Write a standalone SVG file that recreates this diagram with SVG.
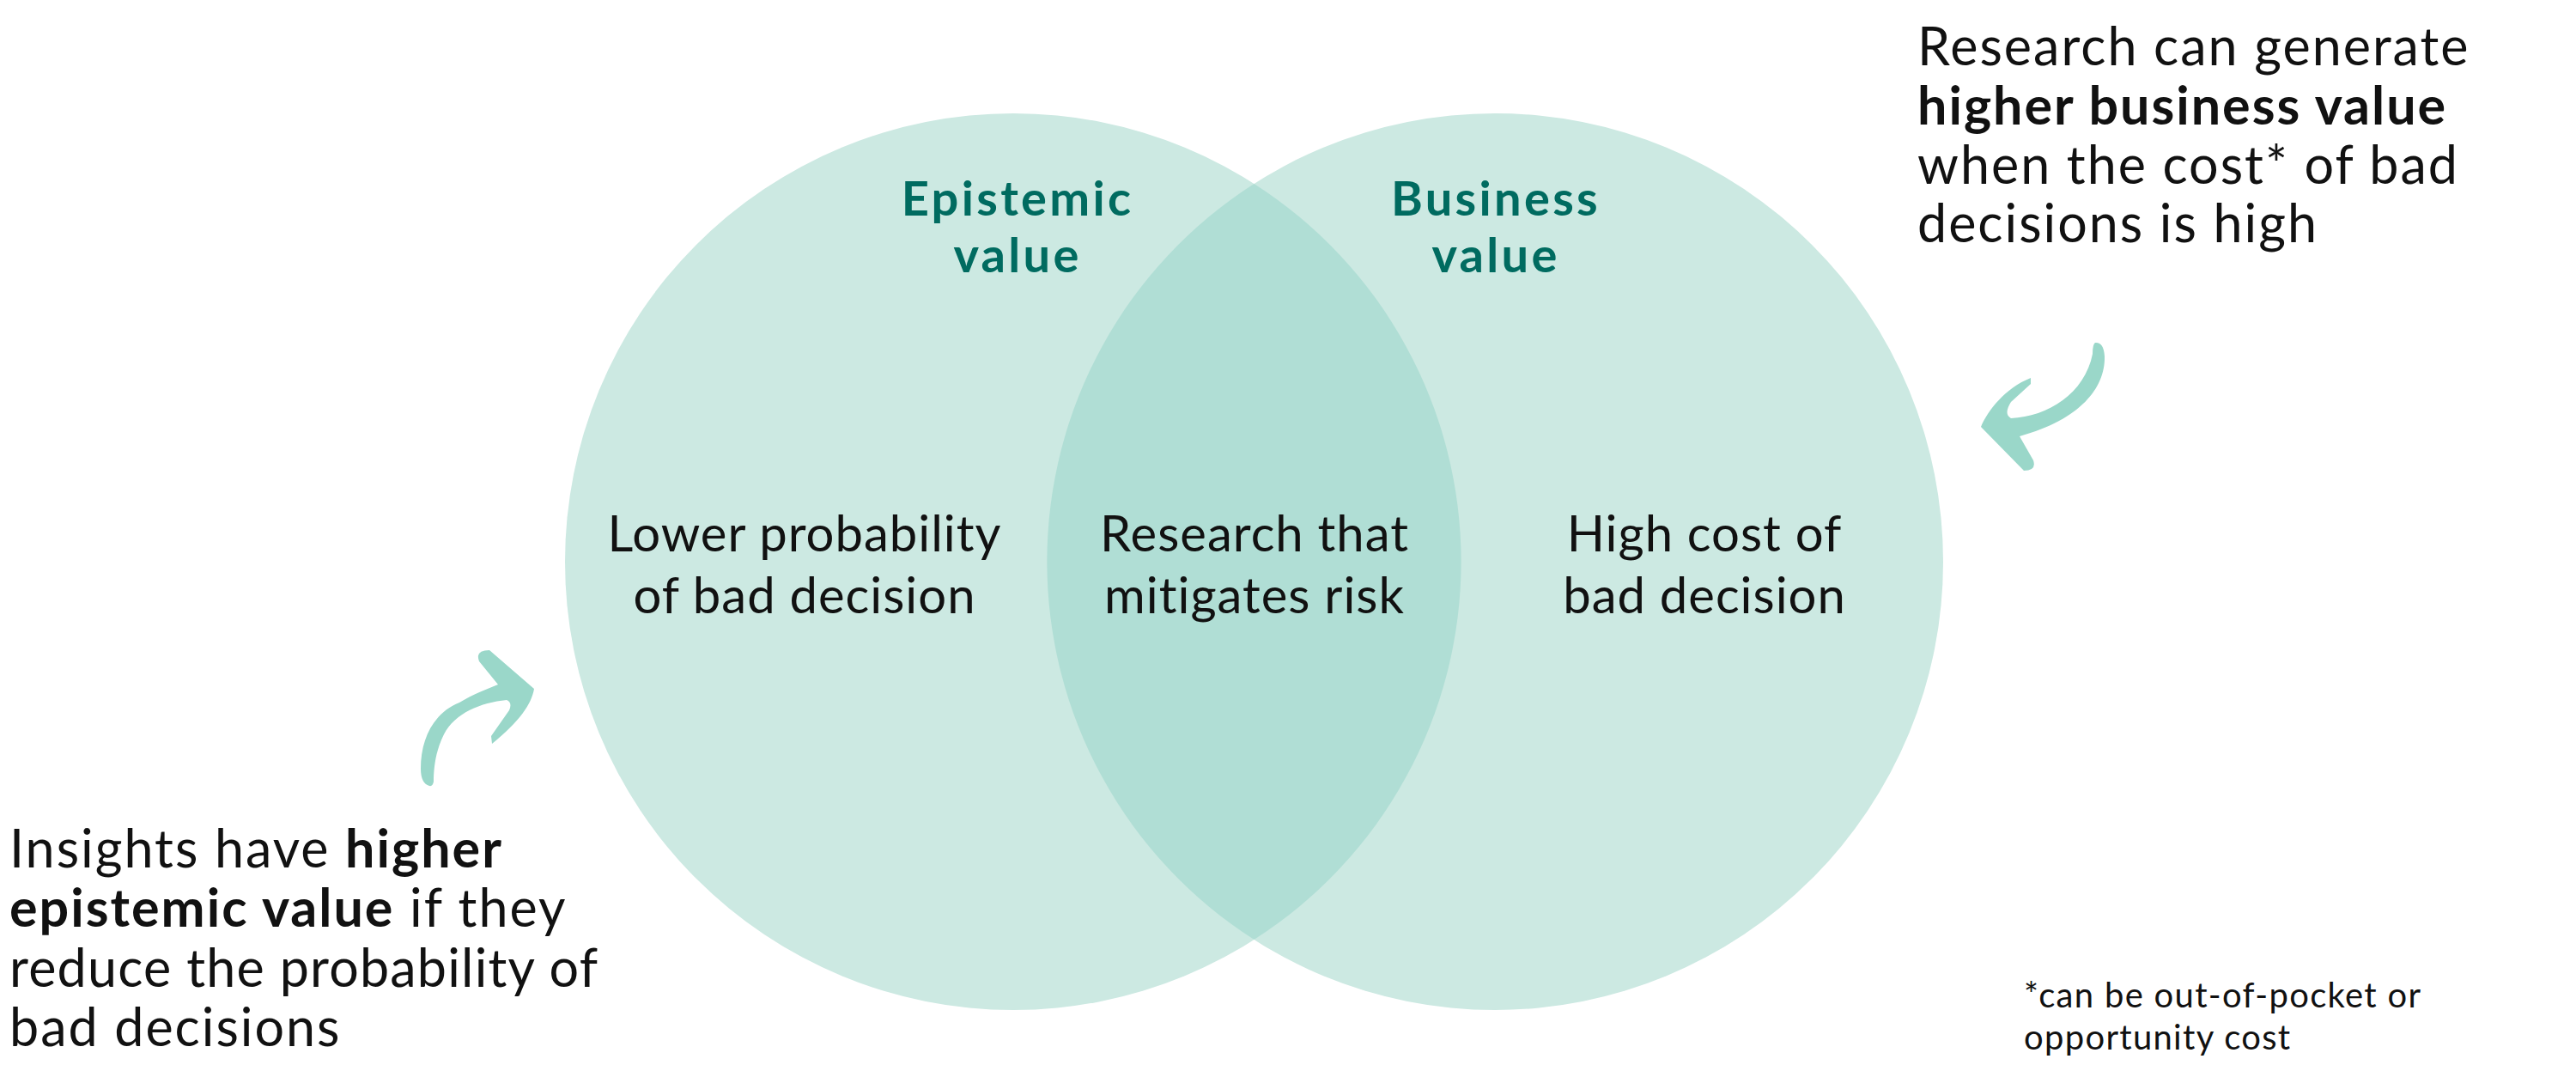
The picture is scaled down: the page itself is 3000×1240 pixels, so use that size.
<svg xmlns="http://www.w3.org/2000/svg" width="3000" height="1240" viewBox="0 0 3000 1240">
<style>
.circ{fill:#cce9e2}
.lens{fill:#b0ded5}
.t{font-family:Lato,"Open Sans",sans-serif;font-size:61px;letter-spacing:2px;fill:#111}
.m{font-family:Lato,"Open Sans",sans-serif;font-size:58px;letter-spacing:1px;fill:#111;text-anchor:middle}
.b{font-weight:bold}
.h{font-family:Lato,"Open Sans",sans-serif;font-size:56px;letter-spacing:3.3px;font-weight:bold;fill:#006b60;text-anchor:middle}
.fn{font-family:Lato,"Open Sans",sans-serif;font-size:40px;letter-spacing:1.3px;fill:#111}
.arr{fill:#9ad7c9}
</style>
<rect width="3000" height="1240" fill="#fff"/>
<g id="epistemic">
<circle class="circ" cx="1180" cy="654" r="522"/>
</g>
<g id="business">
<circle class="circ" cx="1741" cy="654" r="522"/>
</g>
<g id="overlap">
<path class="lens" d="M1460.5 214 A522 522 0 0 1 1460.5 1094 A522 522 0 0 1 1460.5 214 Z"/>
</g>
<g id="labels">
<text class="h" x="1185" y="251">Epistemic</text>
<text class="h" x="1185" y="317">value</text>
<text class="h" x="1742" y="251">Business</text>
<text class="h" x="1742" y="317">value</text>
<text class="m" x="937" y="642">Lower probability</text>
<text class="m" x="937" y="714">of bad decision</text>
<text class="m" x="1461" y="642">Research that</text>
<text class="m" x="1461" y="714">mitigates risk</text>
<text class="m" x="1985" y="642">High cost of</text>
<text class="m" x="1985" y="714">bad decision</text>
</g>
<g id="note-business">
<text class="t" x="2233" y="76">Research can generate</text>
<text class="t b" x="2233" y="145">higher business value</text>
<text class="t" x="2233" y="214">when the cost* of bad</text>
<text class="t" x="2233" y="282">decisions is high</text>
</g>
<g id="note-epistemic">
<text class="t" x="11" y="1010">Insights have <tspan class="b">higher</tspan></text>
<text class="t" x="11" y="1079"><tspan class="b">epistemic value</tspan> if they</text>
<text class="t" x="11" y="1149" style="letter-spacing:1.2px">reduce the probability of</text>
<text class="t" x="11" y="1218">bad decisions</text>
</g>
<g id="footnote">
<text class="fn" x="2357" y="1173">*can be out-of-pocket or</text>
<text class="fn" x="2357" y="1222">opportunity cost</text>
</g>
<g id="connectors">
<path class="arr" d="M2440 399 Q2450 398 2451 415 C2452 450 2425 488 2352 508 L2368 536 Q2372 548 2357 548 L2307 497 C2315 478 2335 452 2365 440 L2365 447 L2342 468 Q2333 482 2342 487 C2385 485 2428 458 2437 412 Q2437 401 2440 399 Z"/>
<path class="arr" d="M500 915 Q490 912 490 895 C490 860 505 830 535 818 C552 808 565 803 580 797 L558 770 Q553 757 570 757 L622 802 C619 820 605 840 573 866 L572 857 L593 827 Q597 818 590 815 C560 818 530 830 517 855 C507 875 505 895 505 910 Q504 916 500 915 Z"/>
</g>
</svg>
